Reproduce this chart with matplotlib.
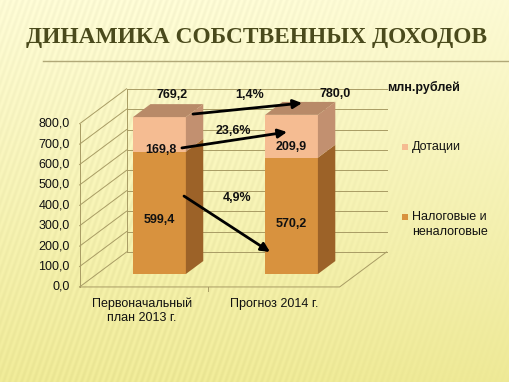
import numpy as np
import matplotlib
matplotlib.use("Agg")
import matplotlib.pyplot as plt
from matplotlib.patches import Polygon, Rectangle

# ---- data ----
categories = ["Первоначальный\nплан 2013 г.", "Прогноз 2014 г."]
series_names = ["Налоговые и\nненалоговые", "Дотации"]
tax_vals = [599.4, 570.2]
grant_vals = [169.8, 209.9]
totals = [769.2, 780.0]
yticks = [0, 100, 200, 300, 400, 500, 600, 700, 800]
ytick_labels = ["0,0", "100,0", "200,0", "300,0", "400,0", "500,0", "600,0", "700,0", "800,0"]
pct_labels = ["1,4%", "23,6%", "4,9%"]

W, H, DPI = 510, 382, 100
fig = plt.figure(figsize=(W / DPI, H / DPI), dpi=DPI)

# ---- background ----
bg = fig.add_axes([0, 0, 1, 1])
yy, xx = np.mgrid[0:H, 0:W]
t = yy / H
top = np.array([252, 250, 212]) / 255
bot = np.array([238, 233, 150]) / 255
img = top[None, None, :] * (1 - t[..., None]) + bot[None, None, :] * t[..., None]
stripe = np.sin((xx + yy * 0.35) * 2 * np.pi / 6.0)
amp = 0.018 * np.exp(-((xx - 150) / 260.0) ** 2)
img = np.clip(img + (amp * stripe)[..., None], 0, 1)
bg.imshow(img, extent=[0, W, H, 0], aspect="auto")
bg.set_xlim(0, W)
bg.set_ylim(H, 0)
bg.axis("off")

# title (fit to reference width)
title = bg.text(257, 38, "ДИНАМИКА СОБСТВЕННЫХ ДОХОДОВ", ha="center", va="center",
                fontsize=19.5, fontweight="bold", family="Liberation Serif", color="#4a4a1c")
renderer = fig.canvas.get_renderer()
tw = title.get_window_extent(renderer).width
title.set_fontsize(19.5 * 463.0 / tw)
bg.plot([43, 510], [61, 61], color="#b0a878", lw=1.0)

# ---- chart axes (bar front plane) ----
s = 0.204  # px per value unit
x0_px, x1_px = 97, 357
ax = fig.add_axes([x0_px / W, (H - 274) / H, (x1_px - x0_px) / W, 800 * s / H])
xl, xr = -0.473, 1.496
ax.set_xlim(xl, xr)
ax.set_ylim(0, 800)
ax.axis("off")

pxx = (x1_px - x0_px) / (xr - xl)  # px per x unit
pxy = s                            # px per y unit
def d(dxp, dyp):
    return dxp / pxx, dyp / pxy

D = (47.0, 35.0)
fdx, fdy = d(-0.37 * D[0], -0.37 * D[1])
bdx, bdy = d(0.63 * D[0], 0.63 * D[1])
ddx, ddy = d(0.37 * D[0], 0.37 * D[1])

gc = "#a89c64"
glw = 0.7
for v in yticks:
    ax.plot([xl + bdx, xr + bdx], [v + bdy, v + bdy], color=gc, lw=glw, clip_on=False, zorder=1)
    ax.plot([xl + fdx, xl + bdx], [v + fdy, v + bdy], color=gc, lw=glw, clip_on=False, zorder=1)
ax.plot([xl + fdx, xl + fdx], [fdy, 800 + fdy], color=gc, lw=glw, clip_on=False, zorder=1)
ax.plot([xl + bdx, xl + bdx], [bdy, 800 + bdy], color=gc, lw=glw, clip_on=False, zorder=1)
ax.plot([xl + fdx, xr + fdx, xr + bdx], [fdy, fdy, bdy], color=gc, lw=glw, clip_on=False, zorder=1)
tdx, tdy = d(0, -4)
for xt in [0.5]:
    ax.plot([xt + fdx, xt + fdx], [fdy, fdy + tdy], color=gc, lw=glw, clip_on=False, zorder=1)

# y tick labels (front plane)
lx, _ = d(-10, 0)
for v, lab in zip(yticks, ytick_labels):
    ax.text(xl + fdx + lx, v + fdy, lab, ha="right", va="center", fontsize=9,
            family="Liberation Sans", color="#111111")

# category labels
_, cy = d(0, -11)
for i, c in enumerate(categories):
    ax.text(i + fdx, fdy + cy, c, ha="center", va="top", fontsize=9,
            family="Liberation Sans", color="#111111", linespacing=1.15)

# ---- bars ----
x = np.arange(len(categories))
w = 0.4
c_tax_front, c_tax_side = "#d8923e", "#9c6228"
c_gr_front, c_gr_side, c_gr_top = "#f5bc92", "#c29070", "#b88a68"
ax.bar(x, tax_vals, width=w, color=c_tax_front, zorder=3, clip_on=False)
ax.bar(x, grant_vals, bottom=tax_vals, width=w, color=c_gr_front, zorder=3, clip_on=False)
for i in range(len(x)):
    xr_ = x[i] + w / 2
    xl_ = x[i] - w / 2
    b0, b1, b2 = 0, tax_vals[i], tax_vals[i] + grant_vals[i]
    ax.add_patch(Polygon([(xr_, b0), (xr_ + ddx, b0 + ddy), (xr_ + ddx, b1 + ddy), (xr_, b1)],
                         closed=True, facecolor=c_tax_side, edgecolor="none", zorder=3, clip_on=False))
    ax.add_patch(Polygon([(xr_, b1), (xr_ + ddx, b1 + ddy), (xr_ + ddx, b2 + ddy), (xr_, b2)],
                         closed=True, facecolor=c_gr_side, edgecolor="none", zorder=3, clip_on=False))
    ax.add_patch(Polygon([(xl_, b2), (xr_, b2), (xr_ + ddx, b2 + ddy), (xl_ + ddx, b2 + ddy)],
                         closed=True, facecolor=c_gr_top, edgecolor="none", zorder=3, clip_on=False))

# ---- value labels ----
lab_kw = dict(ha="center", va="center", fontsize=9, fontweight="bold",
              family="Liberation Sans", color="#111111", zorder=6, clip_on=False)
ax.text(0, 265, f"{tax_vals[0]:.1f}".replace(".", ","), **lab_kw)
ax.text(1.0, 245, f"{tax_vals[1]:.1f}".replace(".", ","), **lab_kw)
ax.text(0.011, 608, f"{grant_vals[0]:.1f}".replace(".", ","), **lab_kw)
ax.text(1.0, 623, f"{grant_vals[1]:.1f}".replace(".", ","), **lab_kw)
ax.text(0.095, 877, f"{totals[0]:.1f}".replace(".", ","), **lab_kw)
ax.text(1.33, 882, f"{totals[1]:.1f}".replace(".", ","), **lab_kw)
ax.text(0.686, 877, pct_labels[0], **lab_kw)
ax.text(0.557, 701, pct_labels[1], **lab_kw)
ax.text(0.587, 373, pct_labels[2], **lab_kw)

# ---- arrows ----
apr = dict(arrowstyle="-|>", color="black", lw=2.0, mutation_scale=13, shrinkA=0, shrinkB=0)
for (sx, sy), (ex, ey) in [((0.254, 784), (1.08, 838)),
                           ((0.17, 618), (0.966, 696)),
                           ((0.186, 382), (0.837, 108))]:
    ax.annotate("", xy=(ex, ey), xytext=(sx, sy), arrowprops=apr,
                annotation_clip=False, zorder=7)

# ---- legend & units ----
bg.text(424, 87, "млн.рублей", ha="center", va="center", fontsize=9, fontweight="bold",
        family="Liberation Sans", color="#111111")
bg.add_patch(Rectangle((402, 144), 6, 6, facecolor=c_gr_front, edgecolor="none"))
bg.text(412, 147, series_names[1], ha="left", va="center", fontsize=9,
        family="Liberation Sans", color="#111111")
bg.add_patch(Rectangle((402, 214), 6, 6, facecolor=c_tax_front, edgecolor="none"))
bg.text(412, 217, series_names[0].split("\n")[0], ha="left", va="center", fontsize=9,
        family="Liberation Sans", color="#111111")
bg.text(412, 232, series_names[0].split("\n")[1], ha="left", va="center", fontsize=9,
        family="Liberation Sans", color="#111111")

fig.savefig("out.png", dpi=DPI)
